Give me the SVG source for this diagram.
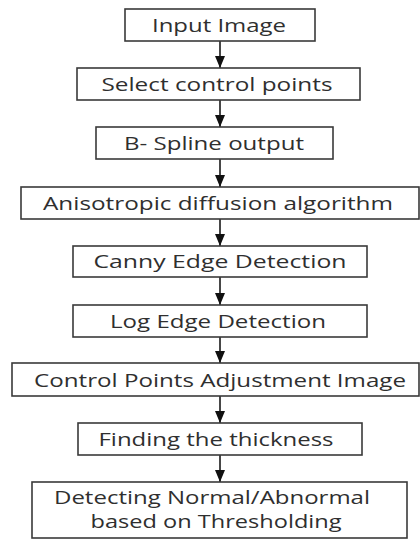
<svg xmlns="http://www.w3.org/2000/svg" width="420" height="539" viewBox="0 0 420 539">
<defs>
<style>
.box{fill:#fff;stroke:#3a3a3a;stroke-width:1.6}
.t{font-family:"Open Sans","Noto Sans","DejaVu Sans",sans-serif;font-size:19px;font-weight:500;fill:#2f2f2f;text-anchor:middle}
.c{stroke:#1a1a1a;stroke-width:1.6;fill:none}
</style>
<marker id="ah" viewBox="0 0 12 10" refX="12" refY="5" markerWidth="12" markerHeight="10" markerUnits="userSpaceOnUse" orient="auto">
<path d="M0,0 L12,5 L0,10 Z" fill="#111"/>
</marker>
</defs>
<rect width="420" height="539" fill="#fff"/>
<g id="connectors">
<line class="c" x1="220" y1="41" x2="220" y2="68" marker-end="url(#ah)"/>
<line class="c" x1="220" y1="100" x2="220" y2="127" marker-end="url(#ah)"/>
<line class="c" x1="220" y1="159" x2="220" y2="187" marker-end="url(#ah)"/>
<line class="c" x1="220" y1="219" x2="220" y2="246" marker-end="url(#ah)"/>
<line class="c" x1="220" y1="277" x2="220" y2="305" marker-end="url(#ah)"/>
<line class="c" x1="220" y1="337" x2="220" y2="363" marker-end="url(#ah)"/>
<line class="c" x1="220" y1="396" x2="220" y2="423" marker-end="url(#ah)"/>
<line class="c" x1="220" y1="455" x2="220" y2="482" marker-end="url(#ah)"/>
</g>
<g id="n1"><rect class="box" x="125" y="9" width="190" height="32"/><text class="t" x="219" y="31.5" textLength="134" lengthAdjust="spacingAndGlyphs">Input Image</text></g>
<g id="n2"><rect class="box" x="77" y="68" width="283" height="32"/><text class="t" x="217" y="90.5" textLength="231" lengthAdjust="spacingAndGlyphs">Select control points</text></g>
<g id="n3"><rect class="box" x="96" y="127" width="237" height="32"/><text class="t" x="214" y="149.5" textLength="180" lengthAdjust="spacingAndGlyphs">B- Spline output</text></g>
<g id="n4"><rect class="box" x="21" y="187" width="398" height="32"/><text class="t" x="218" y="209.5" textLength="350" lengthAdjust="spacingAndGlyphs">Anisotropic diffusion algorithm</text></g>
<g id="n5"><rect class="box" x="73" y="246" width="294" height="31"/><text class="t" x="220" y="268" textLength="253" lengthAdjust="spacingAndGlyphs">Canny Edge Detection</text></g>
<g id="n6"><rect class="box" x="73" y="305" width="294" height="32"/><text class="t" x="218" y="327.5" textLength="216" lengthAdjust="spacingAndGlyphs">Log Edge Detection</text></g>
<g id="n7"><rect class="box" x="12" y="363" width="407" height="33"/><text class="t" x="220" y="386.5" textLength="372" lengthAdjust="spacingAndGlyphs">Control Points Adjustment Image</text></g>
<g id="n8"><rect class="box" x="78" y="423" width="284" height="32"/><text class="t" x="216" y="445.5" textLength="235" lengthAdjust="spacingAndGlyphs">Finding the thickness</text></g>
<g id="n9"><rect class="box" x="32" y="482" width="375" height="56"/><text class="t" x="212" y="503.5" textLength="316" lengthAdjust="spacingAndGlyphs">Detecting Normal/Abnormal</text><text class="t" x="216" y="527.5" textLength="251" lengthAdjust="spacingAndGlyphs">based on Thresholding</text></g>
</svg>
